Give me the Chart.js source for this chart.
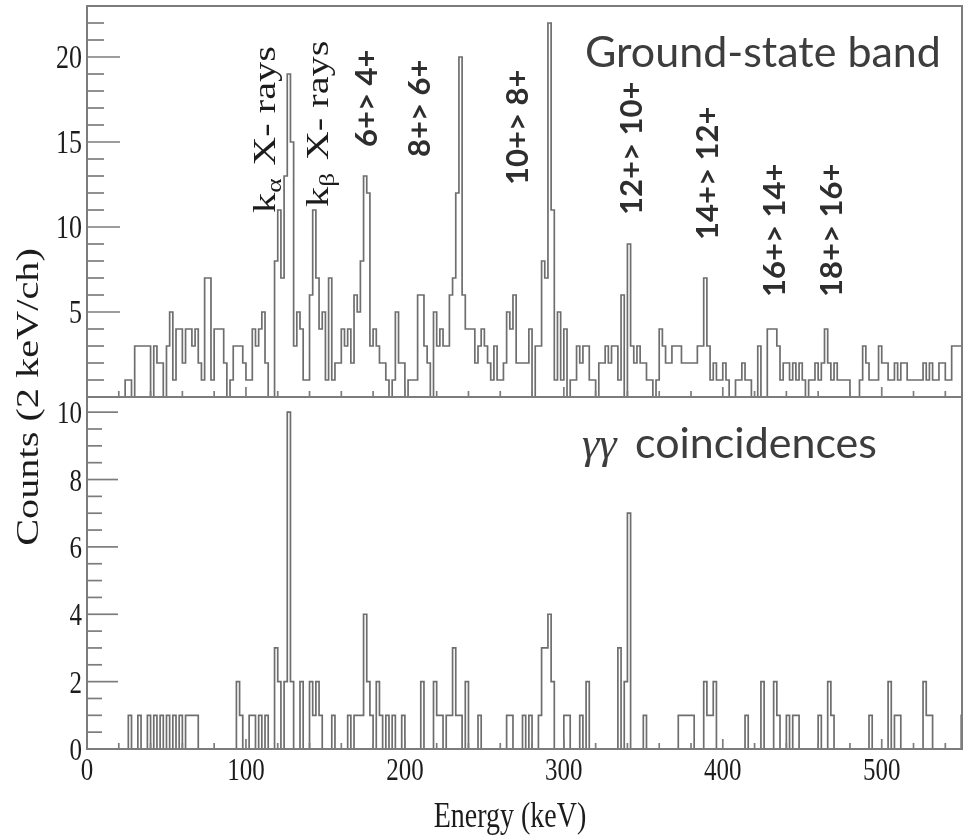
<!DOCTYPE html>
<html>
<head>
<meta charset="utf-8">
<title>Ground-state band / γγ coincidences</title>
<script src="https://cdn.jsdelivr.net/npm/chart.js@4.4.1/dist/chart.umd.min.js"></script>
<style>
  html, body { margin: 0; padding: 0; background: #fff; }
</style>
</head>
<body>
<canvas id="spectrum" width="963" height="840"></canvas>
<script>
// ============================================================
// Gamma spectrum: singles (ground-state band) + γγ gate
// ============================================================

// ── Data ─────────────────────────────────────────────────────
const BIN_WIDTH = 2;      // keV per channel, channel i starts at i*2 keV
const E_MAX = 550.5;      // visible end of the energy axis

// counts / channel, one row = 10 channels (20 keV)
const singlesCounts = [
  0,0,0,0,0,0,0,0,0,0,      // 0
  0,0,1,1,0,3,3,3,3,3,      // 20
  0,3,2,2,0,3,5,1,4,4,      // 40
  2,4,4,3,4,2,1,7,7,1,      // 60
  4,4,4,2,0,1,3,3,3,2,      // 80
  1,1,4,3,4,5,2,0,0,8,      // 100
  11,7,13,19,15,3,5,4,1,1,  // 120
  6,11,7,4,5,1,7,1,2,2,     // 140
  4,3,4,2,6,5,8,13,12,3,    // 160
  4,3,2,2,1,0,1,5,2,2,      // 180
  0,1,1,1,6,6,3,2,0,5,      // 200
  3,4,3,3,6,7,12,20,6,4,    // 220
  4,4,2,3,4,3,2,1,3,1,      // 240
  1,2,5,4,6,2,2,2,2,4,      // 260
  0,3,3,8,7,22,11,1,5,1,    // 280
  4,0,1,1,3,2,3,3,1,1,      // 300
  0,2,2,3,2,3,3,1,6,0,      // 320
  9,3,2,3,2,2,1,1,0,1,      // 340
  4,3,2,2,3,3,3,2,2,2,      // 360
  2,2,3,3,7,3,1,2,1,1,      // 380
  2,1,0,0,1,1,2,1,1,0,      // 400
  0,3,0,0,4,4,4,3,1,2,      // 420
  2,1,2,1,2,1,0,1,1,2,      // 440
  1,2,4,2,1,2,1,1,1,1,      // 460
  0,0,0,1,3,2,1,1,1,3,      // 480
  2,2,1,1,2,1,2,2,1,1,      // 500
  1,1,1,2,1,2,1,1,2,2,      // 520
  1,1,3,3,3,3               // 540
];

const coincCounts = [
  0,0,0,0,0,0,0,0,0,0,      // 0
  0,0,0,1,0,0,1,0,0,1,      // 20
  0,1,0,1,0,1,0,1,0,1,      // 40
  0,1,1,1,1,0,0,0,0,0,      // 60
  0,0,0,0,0,0,0,2,1,0,      // 80
  0,1,1,0,1,0,1,0,0,3,      // 100
  2,0,2,10,2,0,0,2,0,0,     // 120
  2,1,2,1,0,0,0,1,0,0,      // 140
  0,0,1,0,1,1,1,4,2,1,      // 160
  0,2,1,0,1,0,1,0,0,1,      // 180
  0,0,0,0,0,2,0,0,0,2,      // 200
  1,1,0,1,1,3,1,1,0,2,      // 220
  0,0,0,1,0,0,0,0,0,0,      // 240
  0,0,1,1,0,0,0,1,0,1,      // 260
  0,0,1,3,3,4,2,0,0,0,      // 280
  1,1,0,0,0,1,0,2,0,0,      // 300
  0,0,0,0,0,0,0,3,0,2,      // 320
  7,0,0,0,0,1,0,0,0,0,      // 340
  0,0,0,0,0,0,1,1,1,1,      // 360
  1,0,0,0,2,1,1,2,0,0,      // 380
  0,0,0,0,0,0,0,1,0,0,      // 400
  0,0,2,0,0,0,2,1,0,0,      // 420
  1,0,1,1,0,0,0,0,0,0,      // 440
  1,0,0,2,1,0,0,0,0,0,      // 460
  0,0,0,0,0,0,1,0,0,0,      // 480
  0,0,2,0,1,1,0,0,0,0,      // 500
  0,0,0,2,1,1,0,0,0,0,      // 520
  0,0,0,0,0,1               // 540
];

const xTickLabels    = [0, 100, 200, 300, 400, 500];
const yTopTickLabels = [5, 10, 15, 20];
const yBotTickLabels = [0, 2, 4, 6, 8, 10];

// transitions written on the singles panel
const bandLabels = ['6+> 4+', '8+> 6+', '10+> 8+', '12+> 10+', '14+> 12+', '16+> 14+', '18+> 16+'];

// ── Style ────────────────────────────────────────────────────
const LINE  = '#6e6e6e';
const AXIS  = '#7c7c7c';
const INK   = '#1c1c1c';
const SLIDE = '#3d3d3d';
const SERIF = '"Liberation Serif", "DejaVu Serif", serif';
const SANS  = 'Lato, "Open Sans", "Noto Sans", sans-serif';
const STRETCH = 1.3;   // the original plot was pasted stretched vertically

// label anchors in px (baseline x, start y) for rotated text
const bandLabelPos = [[377,147],[430,157],[528,185],[642,215],[718,240],[785,297],[842,297]];

function toSteps(counts) {
  const pts = counts.map((c, i) => ({ x: i * BIN_WIDTH, y: c }));
  pts.push({ x: counts.length * BIN_WIDTH, y: 0 });
  return pts;
}

function seg(ctx, x1, y1, x2, y2) {
  ctx.beginPath(); ctx.moveTo(x1, y1); ctx.lineTo(x2, y2); ctx.stroke();
}

function text(ctx, str, x, y, o) {
  ctx.save();
  ctx.translate(x, y);
  if (o.rotate) ctx.rotate(o.rotate);
  ctx.scale(o.sx || 1, o.sy || 1);
  ctx.font = o.font;
  ctx.fillStyle = o.color || INK;
  ctx.textAlign = o.align || 'left';
  ctx.textBaseline = 'alphabetic';
  ctx.fillText(str, 0, 0);
  ctx.restore();
}

// rotated "k_sub X- rays" label, reading upwards
function xrayLabel(ctx, sub, x, y) {
  ctx.save();
  ctx.translate(x, y);
  ctx.rotate(-Math.PI / 2);
  ctx.scale(STRETCH, 1);
  ctx.fillStyle = INK;
  ctx.textBaseline = 'alphabetic';
  ctx.font = '31px ' + SERIF;
  ctx.fillText('k', 0, 0);
  let w = ctx.measureText('k').width;
  ctx.font = '21px ' + SERIF;
  ctx.fillText(sub, w, 6);
  w += ctx.measureText(sub).width;
  ctx.font = '31px ' + SERIF;
  ctx.fillText(' X- rays', w + 2, 0);
  ctx.restore();
}

// ── Frame, ticks and texts ───────────────────────────────────
const framePlugin = {
  id: 'frame',
  afterDatasetsDraw(chart) {
    const { ctx, chartArea: a, scales } = chart;
    const { x, yTop, yBot } = scales;
    ctx.save();
    ctx.strokeStyle = AXIS;
    ctx.lineWidth = 2;
    ctx.strokeRect(a.left, a.top, a.right - a.left, a.bottom - a.top);
    seg(ctx, a.left, yTop.bottom, a.right, yTop.bottom);

    ctx.lineWidth = 1.7;
    const yTicks = (s, minor, major, lMaj, lMin) => {
      for (let v = minor; v <= s.max + 1e-9; v += minor) {
        const isMajor = Math.abs(v / major - Math.round(v / major)) < 1e-6;
        const py = s.getPixelForValue(v);
        seg(ctx, a.left, py, a.left + (isMajor ? lMaj : lMin), py);
      }
    };
    yTicks(yTop, 1, 5, 33, 17);
    yTicks(yBot, 0.5, 2, 31, 15);

    for (let v = 20; v <= E_MAX; v += 20) {
      const px = x.getPixelForValue(v);
      const len = v % 100 === 0 ? 10 : 6;
      seg(ctx, px, yTop.bottom, px, yTop.bottom - len);
      seg(ctx, px, yBot.bottom, px, yBot.bottom - len);
    }
    ctx.restore();
  },
  afterDraw(chart) {
    const { ctx, chartArea: a, scales } = chart;
    const { x, yTop, yBot } = scales;

    // tick labels, taken from the scales' own ticks
    yTop.ticks.forEach(t => text(ctx, String(t.value), a.left - 5, yTop.getPixelForValue(t.value) + 11,
      { font: '26px ' + SERIF, align: 'right', sy: STRETCH }));
    yBot.ticks.forEach(t => text(ctx, String(t.value), a.left - 5, yBot.getPixelForValue(t.value) + 11,
      { font: '25px ' + SERIF, align: 'right', sy: STRETCH }));
    x.ticks.forEach(t => text(ctx, String(t.value), x.getPixelForValue(t.value), a.bottom + 31,
      { font: '25px ' + SERIF, align: 'center', sy: STRETCH }));

    // axis titles
    text(ctx, 'Energy (keV)', 510, 827, { font: '28px ' + SERIF, align: 'center', sy: STRETCH });
    text(ctx, 'Counts (2 keV/ch)', 38, yTop.bottom, { font: '31px ' + SERIF, align: 'center',
      rotate: -Math.PI / 2, sx: STRETCH });

    // X-ray labels
    xrayLabel(ctx, 'α', 275, 213);
    xrayLabel(ctx, 'β', 328, 207);

    // band transitions
    bandLabels.forEach((s, i) => text(ctx, s, bandLabelPos[i][0], bandLabelPos[i][1],
      { font: 'bold 31px ' + SANS, color: '#2e2e2e', rotate: -Math.PI / 2 }));

    // panel captions
    text(ctx, 'Ground-state band', 585, 67, { font: '43px ' + SANS, color: SLIDE });
    text(ctx, 'γγ', 582, 458, { font: 'italic 44px ' + SERIF, color: SLIDE });
    text(ctx, 'coincidences', 635, 458, { font: '43px ' + SANS, color: SLIDE });
  }
};

const hiddenAxis = {
  grid: { display: false },
  border: { display: false },
  ticks: { display: false }
};

new Chart(document.getElementById('spectrum'), {
  type: 'line',
  data: {
    datasets: [
      { label: 'Singles', data: toSteps(singlesCounts), yAxisID: 'yTop',
        stepped: true, borderColor: LINE, borderWidth: 1.7, pointRadius: 0, fill: false },
      { label: 'γγ coincidences', data: toSteps(coincCounts), yAxisID: 'yBot',
        stepped: true, borderColor: LINE, borderWidth: 1.7, pointRadius: 0, fill: false }
    ]
  },
  options: {
    responsive: false,
    animation: false,
    devicePixelRatio: 1,
    layout: { padding: { top: 6, right: 1, left: 0, bottom: 0 } },
    plugins: { legend: { display: false }, tooltip: { enabled: false } },
    scales: {
      x: { ...hiddenAxis, type: 'linear', min: 0, max: E_MAX,
        afterBuildTicks: s => { s.ticks = xTickLabels.map(v => ({ value: v })); },
        afterFit: s => { s.height = 91; } },
      yBot: { ...hiddenAxis, type: 'linear', position: 'left', stack: 'panels', stackWeight: 352,
        min: 0, max: 10.45,
        afterBuildTicks: s => { s.ticks = yBotTickLabels.map(v => ({ value: v })); },
        afterFit: s => { s.width = 87; } },
      yTop: { ...hiddenAxis, type: 'linear', position: 'left', stack: 'panels', stackWeight: 391,
        min: 0, max: 23,
        afterBuildTicks: s => { s.ticks = yTopTickLabels.map(v => ({ value: v })); },
        afterFit: s => { s.width = 87; } }
    }
  },
  plugins: [framePlugin]
});
</script>
</body>
</html>
